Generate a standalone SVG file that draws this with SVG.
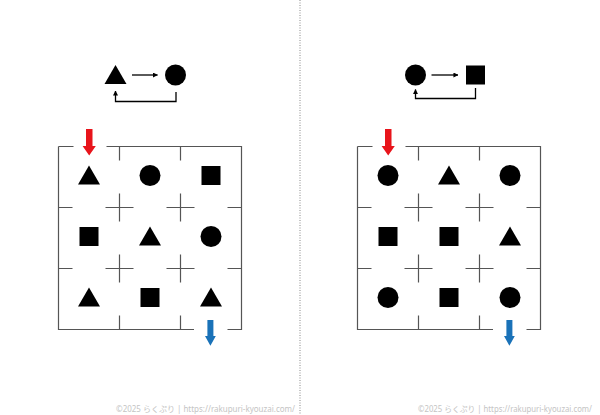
<svg xmlns="http://www.w3.org/2000/svg" xmlns:xlink="http://www.w3.org/1999/xlink" width="600" height="415" viewBox="0 0 600 415">
<style>
.wall{fill:none;stroke:#555;stroke-width:1.2}
.shape{fill:#000}
.link{fill:none;stroke:#000;stroke-width:1.3}
.foot{font-family:"Noto Sans","Noto Sans CJK JP",sans-serif;font-size:8px;fill:#c4c4c4}
.red{fill:#e8141b}
.blue{fill:#1a72b8}
</style>
<defs>
<path id="tri" d="M0,-9.5 L11,9.5 L-11,9.5Z"/>
<circle id="cir" r="10.5"/>
<rect id="sq" x="-9.5" y="-9.5" width="19" height="19"/>
<path id="maze" d="M58.5,146.5H73.5M106.5,146.5H241.5V329.5H227.5M194,329.5H58.5V146.5
M119.5,146.5V160.5M180.5,146.5V160.5M119.5,329.5V315.5M180.5,329.5V315.5
M58.5,207.5H72.5M58.5,268.5H72.5M241.5,207.5H227.5M241.5,268.5H227.5
M105.5,207.5H133.5M119.5,193.5V221.5M166.5,207.5H194.5M180.5,193.5V221.5
M105.5,268.5H133.5M119.5,254.5V282.5M166.5,268.5H194.5M180.5,254.5V282.5"/>
<path id="inArrow" d="M86,129H92.5V146H95.8L89.2,155.5L82.6,146H86Z"/>
<path id="outArrow" d="M207.4,320H213.4V336H215.8L210.4,345.7L205,336H207.4Z"/>
<marker id="ah" viewBox="0 0 6 6" refX="5.5" refY="3" markerWidth="5" markerHeight="5" markerUnits="userSpaceOnUse" orient="auto">
<path d="M0,0L6,3L0,6Z" fill="#000"/>
</marker>
</defs>
<rect width="600" height="415" fill="#fff"/>
<line x1="300" y1="0" x2="300" y2="415" stroke="#888" stroke-width="1" stroke-dasharray="1 1.5"/>

<!-- left maze -->
<g id="maze-left">
<use xlink:href="#maze" href="#maze" class="wall"/>
</g>
<g id="maze-right" transform="translate(299,0)">
<use xlink:href="#maze" href="#maze" class="wall"/>
</g>

<g id="connectors">
<line class="link" x1="132" y1="75" x2="157.5" y2="75" marker-end="url(#ah)"/>
<path class="link" d="M176,92V101.5H115.5V91" marker-end="url(#ah)"/>
<line class="link" x1="431.5" y1="75" x2="458" y2="75" marker-end="url(#ah)"/>
<path class="link" d="M475.5,88V98.5H415.5V89.5" marker-end="url(#ah)"/>
</g>

<g id="legend-left">
<g id="legend-left-triangle"><use href="#tri" x="115.5" y="74.5" class="shape"/></g>
<g id="legend-left-circle"><use href="#cir" x="175.5" y="75" class="shape"/></g>
</g>
<g id="legend-right">
<g id="legend-right-circle"><use href="#cir" x="415.5" y="75" class="shape"/></g>
<g id="legend-right-square"><use href="#sq" x="475.5" y="75" class="shape"/></g>
</g>

<g id="arrows">
<g id="left-in"><use href="#inArrow" class="red"/></g>
<g id="left-out"><use href="#outArrow" class="blue"/></g>
<g id="right-in"><use href="#inArrow" class="red" transform="translate(299,0)"/></g>
<g id="right-out"><use href="#outArrow" class="blue" transform="translate(299,0)"/></g>
</g>

<g id="left-cells" class="shape">
<g id="L11"><use href="#tri" x="89" y="175"/></g>
<g id="L12"><use href="#cir" x="150" y="175.5"/></g>
<g id="L13"><use href="#sq" x="211" y="175.5"/></g>
<g id="L21"><use href="#sq" x="89" y="236.5"/></g>
<g id="L22"><use href="#tri" x="150" y="236"/></g>
<g id="L23"><use href="#cir" x="211" y="236.5"/></g>
<g id="L31"><use href="#tri" x="89" y="297"/></g>
<g id="L32"><use href="#sq" x="150" y="297.5"/></g>
<g id="L33"><use href="#tri" x="211" y="297"/></g>
</g>

<g id="right-cells" class="shape">
<g id="R11"><use href="#cir" x="388" y="175.5"/></g>
<g id="R12"><use href="#tri" x="449" y="175"/></g>
<g id="R13"><use href="#cir" x="510" y="175.5"/></g>
<g id="R21"><use href="#sq" x="388" y="236.5"/></g>
<g id="R22"><use href="#sq" x="449" y="236.5"/></g>
<g id="R23"><use href="#tri" x="510" y="236"/></g>
<g id="R31"><use href="#cir" x="388" y="297.5"/></g>
<g id="R32"><use href="#sq" x="449" y="297.5"/></g>
<g id="R33"><use href="#cir" x="510" y="297.5"/></g>
</g>

<text class="foot" x="116" y="411.5" textLength="179" lengthAdjust="spacingAndGlyphs">©2025 らくぷり | https://rakupuri-kyouzai.com/</text>
<text class="foot" x="418" y="411.5" textLength="174" lengthAdjust="spacingAndGlyphs">©2025 らくぷり | https://rakupuri-kyouzai.com/</text>
</svg>
